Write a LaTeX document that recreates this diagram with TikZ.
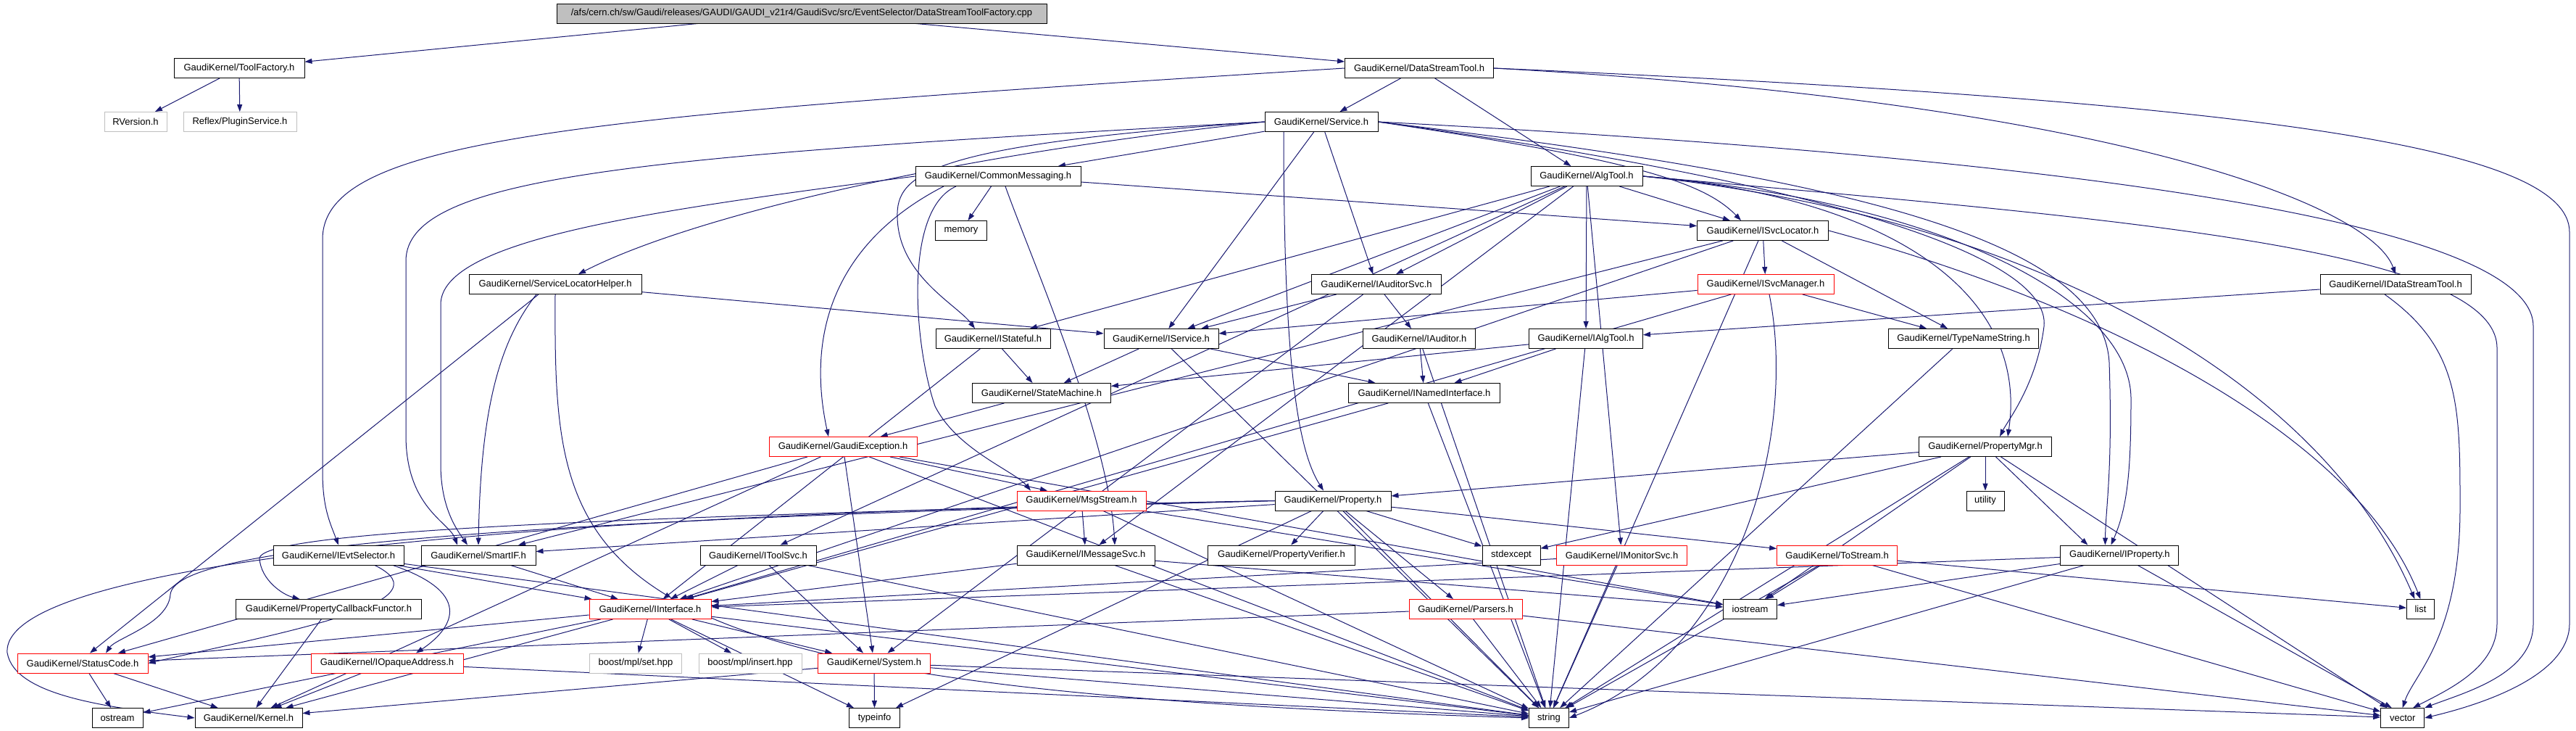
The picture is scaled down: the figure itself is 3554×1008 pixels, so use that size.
\documentclass[tikz,border=0pt]{standalone}
\usepackage{fontspec}
\setmainfont{Liberation Sans}
\usetikzlibrary{arrows.meta}
\definecolor{edgec}{HTML}{191970}
\definecolor{grayb}{HTML}{BFBFBF}
\pgfdeclarelayer{bg}
\pgfsetlayers{bg,main}
\begin{document}
\begin{tikzpicture}[x=1pt,y=-1pt,
  box/.style={draw=black, line width=0.9pt, minimum height=27pt, inner sep=0pt, font=\fontsize{13}{15}\selectfont, fill=white},
  redbox/.style={box, draw=red},
  graybox/.style={box, draw=grayb},
  mainbox/.style={box, fill=grayb},
  edge/.style={draw=edgec, line width=1pt, -{Triangle[length=10pt,width=7pt]}},
]
\useasboundingbox (0,0) rectangle (3554,1008);
% ---------- nodes ----------
\node[mainbox, minimum width=676pt] (main) at (1106,18.5) {/afs/cern.ch/sw/Gaudi/releases/GAUDI/GAUDI\_v21r4/GaudiSvc/src/EventSelector/DataStreamToolFactory.cpp};
\node[box, minimum width=180pt] (toolfactory) at (330,94) {GaudiKernel/ToolFactory.h};
\node[graybox, minimum width=86pt] (rversion) at (187,168) {RVersion.h};
\node[graybox, minimum width=156pt] (pluginsvc) at (331,168) {Reflex/PluginService.h};
\node[box, minimum width=205pt] (dst) at (1958,94) {GaudiKernel/DataStreamTool.h};
\node[box, minimum width=156pt] (service) at (1823,168) {GaudiKernel/Service.h};
\node[box, minimum width=228pt] (commsg) at (1377,243) {GaudiKernel/CommonMessaging.h};
\node[box, minimum width=154pt] (algtool) at (2189,243) {GaudiKernel/AlgTool.h};
\node[box, minimum width=71pt] (memory) at (1326,318) {memory};
\node[box, minimum width=181pt] (isvcloc) at (2432,318) {GaudiKernel/ISvcLocator.h};
\node[box, minimum width=238pt] (slh) at (766,392) {GaudiKernel/ServiceLocatorHelper.h};
\node[box, minimum width=179pt] (iauditorsvc) at (1899,392) {GaudiKernel/IAuditorSvc.h};
\node[redbox, minimum width=188pt] (isvcmgr) at (2436,392) {GaudiKernel/ISvcManager.h};
\node[box, minimum width=208pt] (idst) at (3305,392) {GaudiKernel/IDataStreamTool.h};
\node[box, minimum width=158pt] (istateful) at (1370,467) {GaudiKernel/IStateful.h};
\node[box, minimum width=158pt] (iservice) at (1602,467) {GaudiKernel/IService.h};
\node[box, minimum width=155pt] (iauditor) at (1958,467) {GaudiKernel/IAuditor.h};
\node[box, minimum width=157pt] (ialgtool) at (2188,467) {GaudiKernel/IAlgTool.h};
\node[box, minimum width=207pt] (typename) at (2709,467) {GaudiKernel/TypeNameString.h};
\node[box, minimum width=191pt] (statemachine) at (1437,542) {GaudiKernel/StateMachine.h};
\node[box, minimum width=209pt] (inamed) at (1965,542) {GaudiKernel/INamedInterface.h};
\node[redbox, minimum width=204pt] (gaudiexc) at (1163,616) {GaudiKernel/GaudiException.h};
\node[box, minimum width=183pt] (propmgr) at (2739,616) {GaudiKernel/PropertyMgr.h};
\node[redbox, minimum width=178pt] (msgstream) at (1492,690.5) {GaudiKernel/MsgStream.h};
\node[box, minimum width=160pt] (property) at (1839,690.5) {GaudiKernel/Property.h};
\node[box, minimum width=52pt] (utility) at (2739,690.5) {utility};
\node[box, minimum width=180pt] (ievtsel) at (467,765.5) {GaudiKernel/IEvtSelector.h};
\node[box, minimum width=158pt] (smartif) at (660,765.5) {GaudiKernel/SmartIF.h};
\node[box, minimum width=160pt] (itoolsvc) at (1046,765.5) {GaudiKernel/IToolSvc.h};
\node[box, minimum width=190pt] (imsgsvc) at (1498,765.5) {GaudiKernel/IMessageSvc.h};
\node[box, minimum width=203pt] (propverifier) at (1768,765.5) {GaudiKernel/PropertyVerifier.h};
\node[box, minimum width=80pt] (stdexcept) at (2085,765.5) {stdexcept};
\node[redbox, minimum width=180pt] (imonitorsvc) at (2237.6,765.5) {GaudiKernel/IMonitorSvc.h};
\node[redbox, minimum width=166pt] (tostream) at (2534.6,765.5) {GaudiKernel/ToStream.h};
\node[box, minimum width=163pt] (iproperty) at (2924.4,765.5) {GaudiKernel/IProperty.h};
\node[box, minimum width=256pt] (propcb) at (453.5,840) {GaudiKernel/PropertyCallbackFunctor.h};
\node[redbox, minimum width=168pt] (iinterface) at (897,840) {GaudiKernel/IInterface.h};
\node[redbox, minimum width=156pt] (parsers) at (2022,840) {GaudiKernel/Parsers.h};
\node[box, minimum width=74pt] (iostream) at (2414.6,840) {iostream};
\node[box, minimum width=38pt] (list) at (3339.4,840) {list};
\node[redbox, minimum width=180pt] (statuscode) at (114,914.5) {GaudiKernel/StatusCode.h};
\node[redbox, minimum width=210pt] (iopaque) at (534,914.5) {GaudiKernel/IOpaqueAddress.h};
\node[graybox, minimum width=127pt] (boostset) at (877,914.5) {boost/mpl/set.hpp};
\node[graybox, minimum width=142pt] (boostinsert) at (1035,914.5) {boost/mpl/insert.hpp};
\node[redbox, minimum width=155pt] (system) at (1206,914.5) {GaudiKernel/System.h};
\node[box, minimum width=70pt] (ostream) at (162,990) {ostream};
\node[box, minimum width=148pt] (kernel) at (343,990) {GaudiKernel/Kernel.h};
\node[box, minimum width=70pt] (typeinfo) at (1206.6,990) {typeinfo};
\node[box, minimum width=55pt] (string) at (2137,990) {string};
\node[box, minimum width=60pt] (vector) at (3314.7,990) {vector};
% ---------- edges ----------
\begin{pgfonlayer}{bg}
\draw[edge] (main) -- (toolfactory);
\draw[edge] (main) -- (dst);
\draw[edge] (toolfactory) -- (rversion);
\draw[edge] (toolfactory) -- (pluginsvc);
% DataStreamTool
\draw[edge] (dst) -- (service);
\draw[edge] (dst) -- (algtool);
\draw[edge] (dst.east) .. controls (2900,140) and (3270,280) .. (idst.north);
\draw[edge] (dst.east) .. controls (3100,140) and (3545,200) .. (3545,320) -- (3545,860) .. controls (3545,930) and (3430,970) .. (vector.east);
\draw[edge] (dst.west) .. controls (800,160) and (445,190) .. (445,330) -- (445,650) .. controls (445,700) and (455,720) .. (ievtsel.north);
% Service
\draw[edge] (service.west) .. controls (1300,215) and (950,300) .. ([xshift=32pt]slh.north);
\draw[edge] (service) -- (commsg);
\draw[edge] (service.west) .. controls (900,215) and (560,240) .. (560,360) -- (560,600) .. controls (560,700) and (620,720) .. ([xshift=-29pt]smartif.north);
\draw[edge] (service.west) .. controls (1280,200) and (1236,240) .. (1238,300) .. controls (1240,380) and (1320,420) .. ([xshift=-25pt]istateful.north);
\draw[edge] (service) -- (iservice);
\draw[edge] ([xshift=-52pt]service.south) .. controls (1771,500) and (1790,620) .. ([xshift=-13pt]property.north);
\draw[edge] (service) -- (iauditorsvc);
\draw[edge] (service.east) .. controls (2250,220) and (2350,250) .. ([xshift=-30pt]isvcloc.north);
\draw[edge] (service.east) .. controls (2800,215) and (3495,300) .. (3495,450) -- (3495,860) .. controls (3495,930) and (3400,955) .. (vector.north east);
\draw[edge] (service.east) .. controls (2500,240) and (2900,320) .. (2910,500) .. controls (2915,650) and (2905,700) .. ([xshift=-20pt]iproperty.north);
\draw[edge] (service.east) .. controls (2500,250) and (2830,350) .. (2820,450) .. controls (2810,530) and (2770,580) .. ([xshift=20pt]propmgr.north);
% AlgTool
\draw[edge] (algtool) -- (ialgtool);
\draw[edge] (algtool) -- (isvcloc);
\draw[edge] (algtool) -- (iauditorsvc);
\draw[edge] (algtool) -- (istateful);
\draw[edge] (algtool) -- (iservice);
\draw[edge] (algtool) -- (itoolsvc);
\draw[edge] (algtool) -- (imsgsvc);
\draw[edge] (algtool) -- (imonitorsvc);
\draw[edge] (algtool.east) .. controls (2600,270) and (2800,400) .. ([xshift=31pt]propmgr.north);
\draw[edge] (algtool.east) .. controls (2700,280) and (2940,420) .. (2940,550) .. controls (2940,650) and (2935,700) .. ([xshift=-12pt]iproperty.north);
\draw[edge] (algtool.east) .. controls (2900,300) and (3445,340) .. (3445,480) -- (3445,860) .. controls (3445,920) and (3380,950) .. ([xshift=-16pt]vector.north east);
\draw[edge] (algtool.east) .. controls (2800,300) and (3200,520) .. ([xshift=-8pt]list.north);
% CommonMessaging
\draw[edge] (commsg) -- (memory);
\draw[edge] (commsg) -- (isvcloc);
\draw[edge] ([xshift=-75pt]commsg.south) .. controls (1160,330) and (1110,450) .. ([xshift=-20pt]gaudiexc.north);
\draw[edge] ([xshift=-58pt]commsg.south) .. controls (1245,290) and (1262,480) .. (1290,560) .. controls (1320,620) and (1400,650) .. ([xshift=-70pt]msgstream.north);
\draw[edge] ([xshift=10pt]commsg.south) .. controls (1420,350) and (1530,600) .. ([xshift=40pt]imsgsvc.north);
\draw[edge] (commsg.west) .. controls (900,290) and (608,330) .. (608,420) -- (608,640) .. controls (608,700) and (630,730) .. ([xshift=-15pt]smartif.north);
% ServiceLocatorHelper
\draw[edge] (slh) -- (iservice);
\draw[edge] ([xshift=-26pt]slh.south) .. controls (690,470) and (663,560) .. (smartif.north);
\draw[edge] ([xshift=-23pt]slh.south) -- ([xshift=10pt]statuscode.north);
\draw[edge] (slh.south) .. controls (764,800) and (780,950) .. (string.west);
% ISvcLocator
\draw[edge] (isvcloc) -- (isvcmgr);
\draw[edge] (isvcloc) -- ([xshift=-22pt]typename.north);
\draw[edge] (isvcloc) -- (smartif);
\draw[edge] (isvcloc) -- (iinterface);
\draw[edge] (isvcloc) -- (string);
\draw[edge] (isvcloc.east) .. controls (2900,420) and (3250,600) .. (list.north);
% ISvcManager
\draw[edge] (isvcmgr) -- (iservice);
\draw[edge] (isvcmgr) -- (iinterface);
\draw[edge] (isvcmgr) -- (typename);
\draw[edge] ([xshift=5pt]isvcmgr.south) .. controls (2480,600) and (2400,900) .. (string.east);
% IAuditorSvc
\draw[edge] (iauditorsvc) -- (iservice);
\draw[edge] (iauditorsvc) -- (iauditor);
\draw[edge] (iauditorsvc) -- (system);
% IDataStreamTool
\draw[edge] (idst) -- (ialgtool);
\draw[edge] ([xshift=-15pt]idst.south) .. controls (3394,480) and (3394,560) .. (3394,700) .. controls (3394,880) and (3330,930) .. (vector.north);
% middle layer
\draw[edge] (istateful) -- (iinterface);
\draw[edge] (istateful) -- (statemachine);
\draw[edge] (iservice) -- (inamed);
\draw[edge] (iservice) -- (statemachine);
\draw[edge] (iservice) -- (string);
\draw[edge] (iauditor) -- (inamed);
\draw[edge] (iauditor) -- (string);
\draw[edge] (ialgtool) -- (inamed);
\draw[edge] (ialgtool) -- (statemachine);
\draw[edge] (ialgtool) -- (string);
\draw[edge] (typename) -- (string);
\draw[edge] (statemachine) -- (gaudiexc);
\draw[edge] (inamed) -- (iinterface);
\draw[edge] (inamed) -- (string);
% GaudiException
\draw[edge] (gaudiexc) -- ([xshift=-47pt]msgstream.north);
\draw[edge] (gaudiexc) -- (statuscode);
\draw[edge] (gaudiexc) -- (kernel);
\draw[edge] (gaudiexc) -- (system);
\draw[edge] (gaudiexc) -- (string);
\draw[edge] (gaudiexc) -- (iostream);
% PropertyMgr
\draw[edge] (propmgr) -- (property);
\draw[edge] (propmgr) -- (utility);
\draw[edge] (propmgr) -- ([xshift=-44pt]iproperty.north);
\draw[edge] (propmgr) -- (stdexcept);
\draw[edge] (propmgr) -- (iostream);
\draw[edge] (propmgr) -- (string);
\draw[edge] (propmgr) -- (vector);
% MsgStream
\draw[edge] (msgstream) -- (imsgsvc);
\draw[edge] (msgstream) -- (iostream);
\draw[edge] (msgstream) -- (string);
% Property
\draw[edge] (property) -- (propverifier);
\draw[edge] (property) -- (parsers);
\draw[edge] (property) -- (stdexcept);
\draw[edge] (property) -- (tostream);
\draw[edge] (property) -- (string);
\draw[edge] (property) -- (typeinfo);
\draw[edge] (property) -- (smartif);
\draw[edge] (property.west) .. controls (900,712) and (360,730) .. (358,770) .. controls (360,800) and (390,820) .. ([xshift=-40pt]propcb.north);
\draw[edge] (property.west) .. controls (600,720) and (240,760) .. (235,820) .. controls (232,860) and (160,880) .. ([xshift=32pt]statuscode.north);
\draw[edge] (property.west) .. controls (900,705) and (0,760) .. (10,900) .. controls (20,960) and (150,975) .. (kernel.west);
% lower layer
\draw[edge] (ievtsel) -- (iinterface);
\draw[edge] ([xshift=75pt]ievtsel.south) .. controls (660,820) and (620,870) .. ([xshift=40pt]iopaque.north);
\draw[edge] ([xshift=50pt]ievtsel.south) .. controls (620,830) and (400,870) .. (statuscode.east);
\draw[edge] (ievtsel) -- (string);
\draw[edge] (smartif) -- (iinterface);
\draw[edge] (itoolsvc) -- (iinterface);
\draw[edge] (itoolsvc) -- (system);
\draw[edge] (itoolsvc) -- (string);
\draw[edge] (imsgsvc) -- (iinterface);
\draw[edge] (imsgsvc) -- (iostream);
\draw[edge] (imsgsvc) -- (string);
\draw[edge] (imonitorsvc) -- (iinterface);
\draw[edge] (imonitorsvc) -- (string);
\draw[edge] (tostream) -- (iostream);
\draw[edge] (tostream) -- (list);
\draw[edge] (tostream) -- (string);
\draw[edge] (tostream) -- (vector);
\draw[edge] (iproperty) -- (iinterface);
\draw[edge] (iproperty) -- (iostream);
\draw[edge] (iproperty) -- (string);
\draw[edge] (iproperty) -- ([xshift=-15pt]vector.north);
\draw[edge] (propcb) -- (kernel);
\draw[edge] (iinterface) -- (statuscode);
\draw[edge] (iinterface) -- (ostream);
\draw[edge] (iinterface) -- (kernel);
\draw[edge] (iinterface) -- (boostset);
\draw[edge] (iinterface) -- (boostinsert);
\draw[edge] (iinterface) -- (system);
\draw[edge] (iinterface) -- (string);
\draw[edge] (iinterface) -- (typeinfo);
\draw[edge] (parsers) -- (string);
\draw[edge] (parsers) -- (vector);
\draw[edge] (parsers) -- (statuscode);
\draw[edge] (statuscode) -- (ostream);
\draw[edge] (statuscode) -- (kernel);
\draw[edge] (iopaque) -- (kernel);
\draw[edge] (iopaque) -- (string);
\draw[edge] (system) -- (typeinfo);
\draw[edge] (system) -- (kernel);
\draw[edge] (system) -- (string);
\draw[edge] (system) -- (vector);
\end{pgfonlayer}
\end{tikzpicture}
\end{document}
